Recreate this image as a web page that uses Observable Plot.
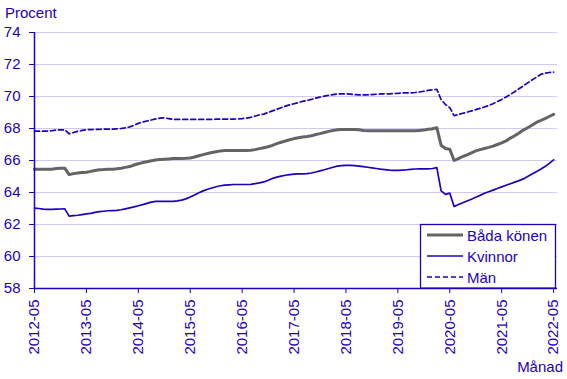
<!DOCTYPE html>
<html><head><meta charset="utf-8">
<script src="https://cdn.jsdelivr.net/npm/d3@7"></script>
<script src="https://cdn.jsdelivr.net/npm/@observablehq/plot@0.6"></script>
<style>body{margin:0;background:#fff}</style>
</head><body><div id="chart"></div>
<script>
const tickLabels = ["2012-05","2013-05","2014-05","2015-05","2016-05","2017-05","2018-05","2019-05","2020-05","2021-05","2022-05"];
const yTicks = [58,60,62,64,66,68,70,72,74];
const seriesNames = ["Båda könen","Kvinnor","Män"];

const both = [65.45,65.45,65.45,65.45,65.45,65.5,65.52,65.52,65.12,65.18,65.22,65.25,
65.27,65.32,65.38,65.42,65.43,65.45,65.46,65.48,65.52,65.57,65.62,65.72,
65.8,65.87,65.92,65.98,66.03,66.06,66.08,66.1,66.12,66.12,66.13,66.14,
66.16,66.22,66.3,66.37,66.44,66.5,66.55,66.6,66.62,66.63,66.63,66.63,
66.63,66.63,66.64,66.68,66.74,66.8,66.86,66.95,67.05,67.14,67.22,67.3,
67.37,67.42,67.47,67.5,67.55,67.62,67.68,67.75,67.82,67.88,67.92,67.94,
67.94,67.94,67.94,67.92,67.88,67.86,67.86,67.86,67.86,67.86,67.86,67.86,
67.86,67.86,67.86,67.86,67.86,67.88,67.9,67.95,67.98,68.05,66.95,66.75,
66.7,66.0,66.12,66.25,66.35,66.48,66.6,66.68,66.75,66.82,66.9,67.0,
67.1,67.22,67.4,67.55,67.72,67.9,68.05,68.2,68.38,68.5,68.62,68.75,
68.88];
const women = [63.02,63.0,62.96,62.95,62.95,62.96,62.97,62.98,62.52,62.55,62.58,62.62,
62.66,62.7,62.76,62.8,62.83,62.86,62.87,62.88,62.92,62.98,63.04,63.1,
63.17,63.24,63.32,63.4,63.44,63.44,63.44,63.44,63.45,63.48,63.52,63.6,
63.72,63.85,63.98,64.1,64.2,64.28,64.36,64.42,64.46,64.48,64.5,64.5,
64.5,64.5,64.51,64.55,64.6,64.66,64.76,64.88,64.96,65.02,65.08,65.12,
65.15,65.16,65.17,65.18,65.22,65.28,65.35,65.42,65.5,65.58,65.65,65.68,
65.7,65.7,65.68,65.65,65.62,65.58,65.54,65.5,65.46,65.43,65.4,65.38,
65.38,65.4,65.42,65.45,65.47,65.48,65.48,65.48,65.5,65.55,64.1,63.88,
63.96,63.13,63.25,63.36,63.47,63.58,63.7,63.82,63.95,64.05,64.15,64.25,
64.35,64.45,64.55,64.65,64.74,64.85,65.0,65.15,65.3,65.45,65.62,65.82,
66.04];
const men = [67.83,67.83,67.83,67.84,67.86,67.9,67.92,67.92,67.67,67.75,67.82,67.88,
67.92,67.93,67.94,67.95,67.96,67.96,67.96,67.98,68.0,68.04,68.1,68.2,
68.32,68.4,68.47,68.53,68.6,68.65,68.67,68.62,68.57,68.57,68.57,68.57,
68.57,68.57,68.57,68.57,68.57,68.57,68.58,68.58,68.58,68.59,68.59,68.6,
68.62,68.65,68.7,68.78,68.85,68.9,69.0,69.1,69.2,69.3,69.4,69.48,
69.55,69.62,69.7,69.75,69.82,69.9,69.96,70.02,70.07,70.12,70.16,70.17,
70.17,70.15,70.12,70.1,70.1,70.1,70.12,70.14,70.16,70.17,70.17,70.18,
70.2,70.22,70.23,70.23,70.25,70.28,70.33,70.38,70.42,70.45,69.8,69.5,
69.3,68.8,68.88,68.95,69.02,69.1,69.18,69.26,69.34,69.44,69.55,69.68,
69.82,69.97,70.13,70.3,70.48,70.66,70.85,71.03,71.2,71.38,71.45,71.5,
71.52];

const blue = "#1e00be";
const gray = "#646464";
const gridColor = "#cbcbf3";
const font = "'Liberation Sans', Arial, sans-serif";

const rows = both.map((v, i) => ({i, both: v, women: women[i], men: men[i]}));
const tickPos = tickLabels.map((_, k) => k * 12);

const chart = Plot.plot({
  width: 567, height: 379,
  marginLeft: 34, marginRight: 10, marginTop: 32, marginBottom: 91,
  style: {fontFamily: font, fontSize: "15px", color: blue, background: "#fff", overflow: "visible"},
  x: {type: "linear", domain: [0, 120.9]},
  y: {domain: [58, 74]},
  marks: [
    Plot.gridY(yTicks, {stroke: gridColor, strokeOpacity: 1, strokeWidth: 1}),
    Plot.axisY(yTicks, {tickSize: 5, tickPadding: 9, stroke: blue, fill: blue, label: null, fontSize: 15}),
    Plot.axisX(tickPos, {tickSize: 5, tickPadding: 6, tickRotate: -90, stroke: blue, fill: blue, label: null,
      tickFormat: (d) => tickLabels[d / 12], fontSize: 15}),
    Plot.line(rows, {x: "i", y: "both", stroke: gray, strokeWidth: 3}),
    Plot.line(rows, {x: "i", y: "women", stroke: blue, strokeWidth: 1.7}),
    Plot.line(rows, {x: "i", y: "men", stroke: blue, strokeWidth: 1.7, strokeDasharray: "5,3"}),
    Plot.ruleX([0], {stroke: blue, strokeWidth: 1.5}),
    Plot.ruleY([58], {stroke: blue, strokeWidth: 1.5})
  ]
});

const svg = d3.select(chart);
svg.selectAll("text").style("font-size", "15px").style("font-family", font);
svg.append("text").attr("x", 5).attr("y", 18).attr("fill", blue).attr("text-anchor", "start")
  .style("font-family", font).style("font-size", "15px").text("Procent");
svg.append("text").attr("x", 563).attr("y", 372).attr("fill", blue).attr("text-anchor", "end")
  .style("font-family", font).style("font-size", "15px").text("Månad");

const lg = svg.append("g");
lg.append("rect").attr("x", 420.5).attr("y", 224.5).attr("width", 135).attr("height", 63.5)
  .attr("fill", "#fff").attr("stroke", blue).attr("stroke-width", 1.3);
const styles = [
  {stroke: gray, w: 3, dash: null},
  {stroke: blue, w: 1.7, dash: null},
  {stroke: blue, w: 1.7, dash: "5,3"}
];
seriesNames.forEach((name, k) => {
  const yy = 235 + k * 21;
  const l = lg.append("line").attr("x1", 427).attr("x2", 463).attr("y1", yy).attr("y2", yy)
    .attr("stroke", styles[k].stroke).attr("stroke-width", styles[k].w);
  if (styles[k].dash) l.attr("stroke-dasharray", styles[k].dash);
  lg.append("text").attr("x", 467).attr("y", yy + 5.5).attr("fill", blue).attr("text-anchor", "start")
    .style("font-family", font).style("font-size", "15px").text(name);
});

document.getElementById("chart").appendChild(chart);
</script>
</body></html>
